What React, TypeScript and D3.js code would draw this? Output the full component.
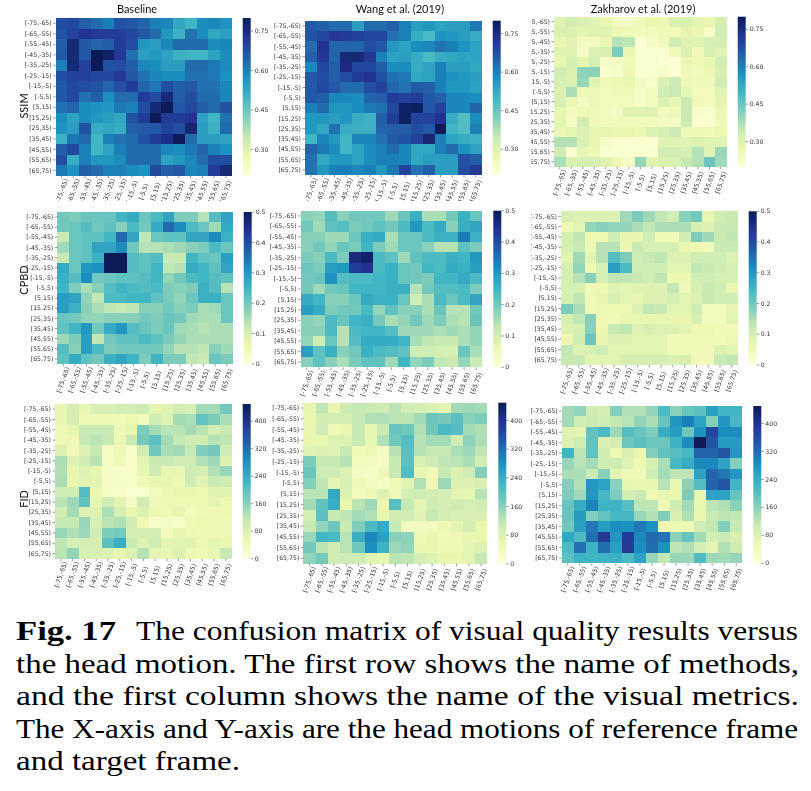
import React from "react";
import * as d3 from "d3";

const bins = ["[-75,-65)","[-65,-55)","[-55,-45)","[-45,-35)","[-35,-25)","[-25,-15)","[-15,-5)","[-5,5)","[5,15)","[15,25)","[25,35)","[35,45)","[45,55)","[55,65)","[65,75)"];
const methods = ["Baseline","Wang et al. (2019)","Zakharov et al. (2019)"];
const metrics = ["SSIM","CPBD","FID"];
const ssimTicks = [0.3,0.45,0.6,0.75];
const cpbdTicks = [0,0.1,0.2,0.3,0.4,0.5];
const fidTicks = [0,80,160,240,320,400];

const ssimBaseline = [
[.68,.69,.65,.63,.60,.67,.66,.64,.60,.59,.53,.50,.58,.59,.57],
[.67,.70,.73,.72,.71,.71,.69,.66,.63,.56,.51,.62,.58,.53,.55],
[.65,.76,.66,.64,.65,.71,.68,.56,.55,.59,.63,.63,.63,.58,.59],
[.66,.76,.66,.80,.78,.72,.62,.55,.56,.54,.51,.50,.50,.54,.58],
[.60,.76,.70,.80,.67,.68,.65,.59,.58,.55,.55,.63,.63,.61,.58],
[.68,.70,.70,.69,.69,.72,.66,.62,.59,.58,.58,.62,.62,.61,.57],
[.66,.69,.68,.67,.64,.68,.71,.64,.61,.68,.65,.66,.62,.62,.59],
[.66,.69,.62,.65,.58,.63,.63,.71,.68,.76,.65,.68,.63,.63,.59],
[.62,.64,.58,.57,.56,.61,.60,.68,.76,.80,.66,.69,.65,.63,.67],
[.58,.54,.58,.56,.55,.53,.67,.71,.80,.71,.71,.73,.54,.50,.62],
[.57,.55,.67,.52,.53,.52,.65,.66,.66,.70,.68,.77,.55,.51,.63],
[.51,.61,.63,.50,.60,.62,.63,.67,.71,.74,.80,.63,.55,.55,.54],
[.65,.69,.60,.50,.54,.60,.63,.63,.63,.59,.58,.61,.64,.60,.57],
[.68,.52,.60,.56,.56,.58,.63,.63,.63,.54,.56,.59,.63,.68,.68],
[.61,.57,.65,.63,.60,.60,.58,.57,.69,.65,.66,.59,.60,.71,.76],
];
const ssimWang = [
[.66,.65,.63,.63,.55,.63,.63,.65,.60,.55,.56,.54,.55,.55,.61],
[.67,.69,.72,.71,.70,.69,.69,.62,.60,.52,.49,.57,.56,.55,.52],
[.63,.73,.64,.64,.64,.68,.66,.56,.54,.58,.59,.62,.60,.57,.54],
[.65,.72,.64,.76,.76,.72,.60,.54,.55,.52,.49,.52,.53,.54,.54],
[.59,.69,.65,.75,.69,.69,.65,.58,.58,.52,.54,.60,.55,.55,.53],
[.66,.68,.65,.68,.71,.73,.67,.62,.61,.53,.54,.60,.57,.56,.55],
[.66,.69,.66,.63,.63,.68,.70,.64,.62,.66,.65,.60,.56,.56,.54],
[.66,.65,.59,.59,.58,.64,.65,.71,.70,.71,.66,.65,.59,.59,.58],
[.60,.63,.56,.56,.58,.61,.62,.69,.78,.79,.66,.70,.59,.59,.64],
[.56,.56,.55,.56,.52,.51,.65,.71,.79,.70,.70,.73,.52,.48,.58],
[.56,.53,.62,.52,.51,.51,.64,.65,.65,.68,.66,.80,.50,.48,.60],
[.50,.59,.56,.50,.59,.59,.62,.66,.67,.70,.77,.60,.54,.52,.51],
[.64,.61,.58,.50,.54,.58,.60,.63,.59,.53,.53,.60,.63,.57,.54],
[.62,.53,.56,.56,.54,.58,.60,.60,.59,.53,.55,.55,.55,.67,.65],
[.62,.56,.60,.60,.59,.60,.56,.61,.70,.62,.65,.55,.55,.68,.72],
];
const ssimZakharov = [
[.30,.33,.31,.30,.28,.24,.24,.26,.28,.27,.31,.31,.29,.28,.32],
[.31,.31,.29,.30,.30,.27,.26,.25,.25,.26,.26,.29,.28,.23,.33],
[.28,.30,.25,.25,.28,.37,.36,.21,.24,.25,.33,.30,.30,.32,.32],
[.30,.30,.24,.31,.32,.43,.28,.22,.22,.22,.26,.31,.26,.32,.30],
[.28,.32,.29,.32,.24,.24,.26,.22,.22,.21,.21,.27,.26,.28,.33],
[.33,.31,.41,.41,.22,.23,.27,.22,.22,.23,.21,.26,.25,.27,.31],
[.32,.31,.40,.30,.26,.27,.28,.24,.23,.31,.34,.26,.26,.26,.33],
[.31,.38,.27,.27,.25,.26,.26,.24,.25,.33,.34,.29,.25,.25,.30],
[.32,.28,.24,.27,.25,.25,.25,.23,.25,.31,.29,.34,.26,.25,.29],
[.28,.25,.27,.26,.25,.24,.30,.30,.30,.25,.26,.34,.23,.22,.27],
[.29,.24,.33,.26,.25,.25,.25,.25,.25,.24,.24,.34,.22,.22,.26],
[.28,.29,.31,.29,.29,.28,.28,.27,.31,.32,.34,.27,.27,.26,.27],
[.37,.37,.31,.28,.24,.22,.22,.22,.21,.30,.30,.30,.31,.30,.30],
[.33,.22,.29,.27,.22,.22,.22,.22,.22,.33,.33,.32,.37,.30,.40],
[.38,.31,.32,.32,.30,.27,.24,.40,.30,.31,.31,.35,.37,.45,.39],
];
const cpbdBaseline = [
[.20,.19,.21,.21,.21,.25,.27,.21,.24,.28,.19,.19,.14,.23,.28],
[.20,.21,.23,.20,.22,.18,.24,.20,.27,.36,.32,.24,.21,.16,.27],
[.12,.21,.22,.22,.25,.36,.28,.13,.21,.22,.22,.28,.28,.32,.26],
[.16,.21,.22,.28,.28,.32,.20,.14,.14,.15,.16,.18,.19,.24,.21],
[.12,.21,.22,.26,.50,.50,.23,.22,.23,.12,.12,.25,.22,.21,.29],
[.27,.21,.30,.31,.50,.50,.23,.22,.25,.13,.14,.27,.25,.22,.28],
[.26,.23,.32,.20,.21,.22,.22,.23,.25,.17,.20,.24,.25,.23,.22],
[.25,.19,.15,.18,.23,.25,.24,.23,.24,.19,.18,.19,.26,.23,.14],
[.29,.28,.17,.13,.24,.24,.25,.25,.22,.19,.17,.21,.26,.26,.21],
[.29,.26,.18,.15,.13,.12,.13,.18,.18,.20,.18,.19,.15,.16,.21],
[.21,.20,.17,.17,.18,.18,.18,.20,.19,.21,.20,.16,.15,.15,.21],
[.22,.25,.30,.20,.27,.30,.23,.21,.19,.21,.16,.15,.14,.15,.15],
[.16,.19,.29,.13,.20,.22,.22,.24,.22,.19,.17,.15,.15,.15,.15],
[.23,.18,.29,.24,.19,.20,.20,.20,.20,.17,.14,.14,.13,.18,.16],
[.22,.27,.22,.20,.26,.28,.25,.19,.25,.19,.19,.13,.12,.21,.19],
];
const cpbdWang = [
[.18,.17,.23,.18,.20,.20,.20,.16,.21,.26,.15,.15,.20,.26,.21],
[.20,.16,.22,.23,.19,.20,.22,.20,.24,.30,.24,.27,.18,.26,.28],
[.18,.18,.16,.16,.21,.26,.27,.15,.21,.21,.24,.26,.26,.34,.26],
[.18,.20,.17,.21,.19,.25,.19,.16,.21,.21,.18,.14,.14,.22,.19],
[.19,.18,.24,.19,.46,.48,.24,.22,.16,.22,.24,.24,.26,.25,.30],
[.21,.19,.29,.30,.42,.44,.24,.26,.21,.20,.25,.24,.27,.26,.29],
[.20,.21,.31,.23,.24,.24,.25,.26,.21,.20,.19,.25,.25,.27,.24],
[.20,.16,.20,.21,.25,.25,.25,.26,.26,.14,.20,.23,.23,.24,.19],
[.27,.25,.18,.18,.21,.27,.26,.26,.21,.11,.15,.24,.21,.24,.28],
[.29,.27,.19,.20,.20,.24,.17,.22,.18,.18,.15,.21,.14,.14,.20],
[.18,.17,.24,.21,.25,.26,.20,.15,.17,.20,.16,.19,.15,.14,.21],
[.18,.18,.24,.14,.24,.25,.25,.23,.16,.16,.16,.15,.16,.15,.17],
[.17,.11,.21,.14,.23,.27,.27,.27,.25,.15,.13,.12,.12,.15,.17],
[.29,.22,.26,.18,.20,.26,.24,.23,.22,.11,.11,.10,.10,.21,.15],
[.18,.22,.18,.15,.19,.22,.22,.16,.25,.17,.19,.13,.12,.17,.12],
];
const cpbdZakharov = [
[.10,.09,.09,.09,.09,.16,.19,.16,.13,.11,.18,.20,.07,.11,.12],
[.06,.08,.17,.18,.17,.17,.15,.13,.15,.15,.15,.10,.09,.12,.12],
[.10,.13,.06,.06,.11,.07,.07,.11,.05,.05,.11,.19,.16,.12,.13],
[.10,.12,.06,.14,.14,.06,.12,.10,.10,.10,.07,.06,.05,.12,.12],
[.08,.16,.08,.14,.23,.19,.11,.12,.13,.09,.09,.11,.11,.11,.09],
[.10,.17,.06,.10,.29,.24,.11,.11,.11,.08,.08,.13,.12,.11,.10],
[.10,.14,.18,.10,.13,.13,.12,.11,.13,.06,.06,.11,.11,.10,.10],
[.10,.10,.05,.06,.09,.08,.08,.09,.09,.13,.05,.10,.12,.11,.07],
[.10,.13,.05,.07,.10,.08,.07,.09,.09,.10,.08,.09,.12,.11,.11],
[.19,.15,.05,.06,.06,.06,.09,.13,.12,.08,.08,.11,.04,.04,.07],
[.10,.13,.18,.06,.05,.07,.07,.07,.07,.07,.07,.10,.04,.04,.08],
[.09,.10,.18,.06,.12,.13,.09,.10,.09,.09,.08,.06,.06,.05,.05],
[.06,.11,.21,.07,.09,.09,.08,.08,.08,.05,.05,.05,.05,.05,.06],
[.13,.09,.10,.11,.08,.08,.08,.08,.08,.05,.05,.05,.05,.09,.08],
[.12,.12,.08,.08,.08,.10,.10,.10,.10,.09,.10,.05,.05,.12,.13],
];
const fidBaseline = [
[65,92,65,88,88,98,92,102,70,76,98,88,140,140,180],
[65,92,50,50,50,45,55,40,102,82,140,135,195,172,135],
[50,65,108,108,108,50,65,172,140,122,122,140,122,92,108],
[50,45,112,122,112,55,108,178,200,140,112,102,98,126,118],
[82,45,82,112,32,50,22,102,182,135,140,112,168,178,102],
[135,82,98,122,32,45,22,70,108,108,102,98,130,145,82],
[130,60,82,65,28,22,22,65,102,65,65,102,92,130,150],
[135,60,76,70,28,28,22,50,65,65,50,102,76,108,102],
[102,102,210,60,28,22,16,16,40,50,60,60,55,76,76],
[122,145,195,65,102,70,32,98,45,50,50,50,50,70,55],
[98,140,82,82,135,92,60,82,55,45,65,40,50,50,55],
[112,112,150,88,122,130,98,50,22,28,22,50,55,50,50],
[150,130,145,102,172,178,92,92,92,40,65,55,50,50,50],
[118,92,92,92,200,238,112,82,102,70,76,76,55,70,60],
[122,155,88,88,82,65,82,126,70,65,82,55,50,60,112],
];
const fidWang = [
[65,118,65,102,112,108,102,122,98,92,82,70,140,145,140],
[60,98,92,92,112,130,130,122,122,140,186,178,200,160,172],
[60,102,50,60,112,65,108,190,182,130,182,218,208,140,130],
[65,60,82,82,112,65,130,182,205,126,140,140,102,158,135],
[76,82,76,108,45,55,32,126,200,126,112,112,135,145,118],
[172,108,108,126,38,38,32,112,200,88,102,118,122,135,98],
[186,102,102,82,32,28,45,112,208,65,45,112,82,102,165],
[165,118,70,88,45,38,32,45,76,130,50,145,82,82,88],
[122,122,248,82,38,50,82,45,92,102,98,92,70,65,126],
[140,195,238,60,122,145,55,205,112,70,102,92,98,92,98],
[92,200,108,118,140,130,65,98,98,76,112,92,88,88,88],
[112,155,186,108,168,214,242,112,38,38,38,50,70,92,60],
[150,224,218,122,238,295,258,162,158,50,60,45,50,60,60],
[178,122,98,122,182,282,230,145,155,60,60,50,50,70,82],
[155,178,102,102,102,76,65,122,118,92,82,60,60,70,112],
];
const fidZakharov = [
[140,155,100,95,165,130,130,155,215,160,190,200,260,225,225],
[140,100,105,100,115,125,155,135,190,270,300,255,165,270,220],
[75,70,195,215,145,205,190,170,240,265,185,280,365,285,285],
[80,100,195,85,95,185,200,185,185,230,285,450,350,265,265],
[225,120,195,100,55,85,60,165,195,205,220,330,330,350,270],
[150,125,140,100,100,75,55,90,135,220,240,290,290,255,165],
[135,135,110,160,70,45,45,100,140,120,120,255,330,310,270],
[165,130,270,255,160,65,60,65,125,60,160,210,330,350,225],
[170,145,275,220,170,95,105,50,65,60,170,65,255,255,190],
[190,240,295,230,230,205,120,120,50,100,140,60,120,130,160],
[190,265,165,195,220,220,150,130,170,85,130,60,110,120,115],
[180,260,310,265,285,280,310,280,55,55,50,100,115,165,110],
[250,215,320,390,270,380,290,325,315,160,190,140,95,110,85],
[215,315,230,320,260,385,285,320,280,120,130,95,70,130,100],
[200,230,225,230,235,215,255,150,115,150,150,210,145,140,150],
];

const captionLines = [
  { x: 16, w: 100, bold: true, t: "Fig. 17" },
  { x: 136, w: 662, bold: false, t: "The confusion matrix of visual quality results versus" },
];
const captionRest = [
  { w: 783, t: "the head motion. The first row shows the name of methods," },
  { w: 783, t: "and the first column shows the name of the visual metrics." },
  { w: 782, t: "The X-axis and Y-axis are the head motions of reference frame" },
  { w: 224, t: "and target frame." },
];

const rows = [
  { name: metrics[0], dom: [0.2, 0.8], ticks: ssimTicks, fmt: (v: number) => v.toFixed(2), data: [ssimBaseline, ssimWang, ssimZakharov],
    labelY: 106, box: [[55.7,231.7,18,175.7],[305,481.7,20.7,175],[554,726.7,16.7,166.7]], clip: [[0,268,0,201],[270,531,0,201],[531,811,0,201]] },
  { name: metrics[1], dom: [0, 0.5], ticks: cpbdTicks, fmt: (v: number) => String(v), data: [cpbdBaseline, cpbdWang, cpbdZakharov],
    labelY: 280, box: [[57.3,232.7,212,364],[300.7,482.3,210.7,367.3],[561,737.7,211.3,365]], clip: [[0,268,201,400],[268,531,201,400],[531,811,201,400]] },
  { name: metrics[2], dom: [0, 450], ticks: fidTicks, fmt: (v: number) => String(v), data: [fidBaseline, fidWang, fidZakharov],
    labelY: 499, box: [[55,231.7,404,558.7],[303.3,487.3,402.7,563.7],[561.7,742.3,406,563.3]], clip: [[0,268,400,600],[268,531,400,600],[531,811,400,600]] },
];
const titleCenters = [137, 400, 643];

const tickFont = "'DejaVu Sans', sans-serif";
const labelFont = "Lato, sans-serif";
const tickColor = "#333";

function Panel({ row, col, data, box, clip, dom, ticks, fmt }: any) {
  const [x0, x1, y0, y1] = box;
  const x = d3.scaleBand<string>().domain(bins).range([x0, x1]);
  const y = d3.scaleBand<string>().domain(bins).range([y0, y1]);
  const stops = d3.schemeYlGnBu[9] as readonly string[];
  const color = d3.scaleLinear<string>()
    .domain(stops.map((_, i) => dom[0] + (dom[1] - dom[0]) * i / 8))
    .range(stops as string[])
    .clamp(true);
  const cbY = d3.scaleLinear().domain(dom).range([y1, y0]);
  const cx0 = x1 + 11;
  const cw = 8;
  const id = `p${row}${col}`;
  return (
    <g clipPath={`url(#clip${id})`}>
      <defs>
        <clipPath id={`clip${id}`}>
          <rect x={clip[0]} y={clip[2]} width={clip[1] - clip[0]} height={clip[3] - clip[2]} />
        </clipPath>
        <linearGradient id={`grad${id}`} x1="0" y1="1" x2="0" y2="0">
          {stops.map((s, i) => <stop key={i} offset={`${(i / 8) * 100}%`} stopColor={s} />)}
        </linearGradient>
      </defs>
      {data.map((r: number[], i: number) => r.map((v, j) => (
        <rect key={`${i}-${j}`} x={x(bins[j])} y={y(bins[i])} width={x.bandwidth()} height={y.bandwidth()} fill={color(v)} shapeRendering="crispEdges" />
      )))}
      {bins.map(b => {
        const py = y(b)! + y.bandwidth() / 2;
        return (
          <g key={b}>
            <line x1={x0 - 2.5} x2={x0} y1={py} y2={py} stroke={tickColor} strokeWidth={0.5} />
            <text x={x0 - 4} y={py + 2.1} textAnchor="end" fontFamily={tickFont} fontSize={6.2} fill={tickColor}>{b}</text>
          </g>
        );
      })}
      {bins.map(b => {
        const px = x(b)! + x.bandwidth() / 2;
        return (
          <g key={b}>
            <line x1={px} x2={px} y1={y1} y2={y1 + 2.5} stroke={tickColor} strokeWidth={0.5} />
            <text transform={`translate(${px},${y1 + 16}) rotate(-70)`} textAnchor="middle" dy={2} fontFamily={tickFont} fontSize={6.2} fill={tickColor}>{b}</text>
          </g>
        );
      })}
      <rect x={cx0} y={y0} width={cw} height={y1 - y0} fill={`url(#grad${id})`} />
      {ticks.map((t: number) => (
        <g key={t}>
          <line x1={cx0 + cw} x2={cx0 + cw + 2.5} y1={cbY(t)} y2={cbY(t)} stroke={tickColor} strokeWidth={0.5} />
          <text x={cx0 + cw + 4} y={cbY(t) + 2.1} fontFamily={tickFont} fontSize={6.2} fill={tickColor}>{fmt(t)}</text>
        </g>
      ))}
    </g>
  );
}

export default function App() {
  return (
    <svg width={811} height={791} viewBox="0 0 811 791" style={{ position: "absolute", left: 0, top: 0, background: "#fff" }}>
      <defs>
        <filter id="soft" x="0" y="0" width="100%" height="100%" filterUnits="userSpaceOnUse" primitiveUnits="userSpaceOnUse">
          <feGaussianBlur stdDeviation={0.45} />
        </filter>
      </defs>
      <g filter="url(#soft)">
        <rect width={811} height={605} fill="#fff" />
        {methods.map((m, i) => (
          <text key={m} x={titleCenters[i]} y={12.5} textAnchor="middle" fontFamily={labelFont} fontSize={11} fill="#111">{m}</text>
        ))}
        {rows.map((r, ri) => (
          <g key={r.name}>
            <text transform={`translate(27.5,${r.labelY}) rotate(-90)`} textAnchor="middle" fontFamily={labelFont} fontSize={11} fill="#111">{r.name}</text>
            {r.data.map((d, ci) => (
              <Panel key={ci} row={ri} col={ci} data={d} box={r.box[ci]} clip={r.clip[ci]} dom={r.dom} ticks={r.ticks} fmt={r.fmt} />
            ))}
          </g>
        ))}
      </g>
      <g fontFamily="'Liberation Serif', serif" fontSize={27.5} fill="#000">
        {captionLines.map(l => (
          <text key={l.t} x={l.x} y={640} fontWeight={l.bold ? 700 : 400} textLength={l.w} lengthAdjust="spacingAndGlyphs">{l.t}</text>
        ))}
        {captionRest.map((l, i) => (
          <text key={l.t} x={16} y={672.6 + i * 32.5} textLength={l.w} lengthAdjust="spacingAndGlyphs">{l.t}</text>
        ))}
      </g>
    </svg>
  );
}
